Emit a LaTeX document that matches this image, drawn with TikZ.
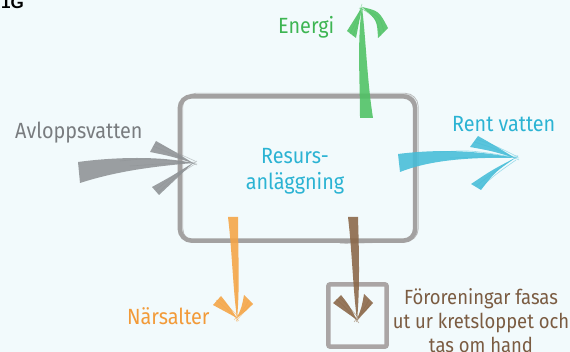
\documentclass[tikz,border=0pt]{standalone}
\usepackage{fontspec}
\setmainfont{Fira Sans}[FakeStretch=0.9]
\newfontfamily\hdfont{Liberation Sans}
\usetikzlibrary{calc}
\definecolor{bg}{HTML}{F2FAFC}
\definecolor{boxgray}{HTML}{A3A1A1}
\definecolor{arrgray}{HTML}{8E9295}
\definecolor{cyanA}{HTML}{45BDD8}
\definecolor{cyanT}{HTML}{2BB3D3}
\definecolor{greenA}{HTML}{4EC263}
\definecolor{greenT}{HTML}{3DB552}
\definecolor{orangeA}{HTML}{F5A444}
\definecolor{orangeT}{HTML}{F29A38}
\definecolor{brownA}{HTML}{8A6646}
\definecolor{brownT}{HTML}{7B5C42}
\definecolor{trapgray}{HTML}{AAA5A5}
\begin{document}
\begin{tikzpicture}[x=1pt,y=-1pt,
  lbl/.style={inner sep=0pt, font=\fontsize{22}{26}\selectfont},
  brush/.style={opacity=.88},
  streak/.style={line width=.6pt, opacity=.5}]
\fill[bg] (0,0) rectangle (570,352);
\useasboundingbox (0,0) rectangle (570,352);

% heading
\node[anchor=base west, inner sep=0pt, font=\hdfont\bfseries\fontsize{17}{17}\selectfont] (hd) at (1,9) {1G};

% main box
\node[minimum width=235pt, minimum height=144pt, inner sep=0pt] (plant) at (297.5,168.5) {};
\draw[boxgray, line width=4.5pt, rounded corners=12pt] (plant.north west) rectangle (plant.south east);
\draw[boxgray, line width=.8pt, opacity=.7, rounded corners=13pt]
  ($(plant.north west)+(3,-3)$) rectangle ($(plant.south east)+(3,1)$);
\draw[boxgray, line width=.6pt, opacity=.6, rounded corners=11pt]
  ($(plant.north west)+(20,-1)$) -- ($(plant.north east)+(1,-2)$) -- ($(plant.south east)+(1,-6)$);
\draw[boxgray, line width=.6pt, opacity=.6]
  ($(plant.south west)+(160,3)$) -- ($(plant.south east)+(-10,1)$);
\node[lbl, text=cyanT, align=center] (plantlbl) at (295,171) {Resurs-\\anläggning};

% small trap box
\node[minimum width=58pt, minimum height=62pt, inner sep=0pt] (trap) at (357.5,315.5) {};
\draw[trapgray, line width=4.5pt, rounded corners=2pt] (trap.north west) rectangle (trap.south east);

% labels
\node[lbl, anchor=base west, text=arrgray!85!black] (inlbl) at (15,139) {Avloppsvatten};
\node[lbl, anchor=base west, text=cyanT] (outlbl) at (452,132) {Rent vatten};
\node[lbl, anchor=base west, text=greenT] (enlbl) at (278,34) {Energi};
\node[lbl, anchor=base west, text=orangeT] (nslbl) at (127,325) {Närsalter};
\node[inner sep=0pt, anchor=north, align=center, text=brownT, font=\fontsize{20.5}{24}\selectfont] (folbl) at (481,288) {Föroreningar fasas\\ut ur kretsloppet och\\tas om hand};

% ---- input arrow (gray)
\coordinate (in-t) at (193,163);
\begin{scope}[brush, fill=arrgray]
\fill (78,162) .. controls (115,157) and (160,156) .. (in-t) .. controls (160,166) and (120,170) .. (80,183) -- cycle;
\fill (150,152) .. controls (170,156) .. (in-t) .. controls (172,150) .. (156,141) -- cycle;
\fill (152,187) .. controls (172,176) .. (in-t) .. controls (176,179) .. (159,195) -- cycle;
\end{scope}
\begin{scope}[streak, draw=arrgray]
\draw (120,161) .. controls (150,158) .. (197,164);
\draw (130,166) .. controls (160,164) .. (196,162);
\draw (153,146) .. controls (172,154) .. (197,165);
\draw (155,143) .. controls (175,152) .. (195,161);
\draw (156,190) .. controls (174,175) .. (197,161);
\draw (158,193) .. controls (176,176) .. (195,164);
\end{scope}

% ---- output arrow (cyan)
\coordinate (out-t) at (515,158);
\begin{scope}[brush, fill=cyanA]
\fill (398,154) .. controls (430,150) and (470,149) .. (out-t) .. controls (470,157) and (430,160) .. (400,172) -- cycle;
\fill (470,147) .. controls (492,151) .. (out-t) .. controls (494,145) .. (478,136) -- cycle;
\fill (471,184) .. controls (492,170) .. (out-t) .. controls (495,172) .. (481,190) -- cycle;
\end{scope}
\begin{scope}[streak, draw=cyanA]
\draw (440,152) .. controls (470,150) .. (519,158);
\draw (450,158) .. controls (480,157) .. (518,156);
\draw (474,142) .. controls (494,148) .. (519,160);
\draw (476,139) .. controls (496,146) .. (516,156);
\draw (476,186) .. controls (494,172) .. (518,156);
\draw (479,189) .. controls (496,174) .. (516,160);
\end{scope}

% ---- energy arrow (green)
\coordinate (en-t) at (362,7);
\begin{scope}[brush, fill=greenA]
\fill (360,118) .. controls (360,80) and (357,40) .. (en-t) .. controls (366,40) and (367,80) .. (373,118) -- cycle;
\fill (347,31) .. controls (354,20) .. (en-t) .. controls (359,22) .. (356,38) -- cycle;
\fill (378,38) .. controls (377,20) .. (en-t) .. controls (379,11) .. (388,28) -- cycle;
\end{scope}
\begin{scope}[streak, draw=greenA]
\draw (350,34) .. controls (356,22) .. (362,4);
\draw (353,36) .. controls (358,22) .. (363,8);
\draw (384,32) .. controls (380,16) .. (359,8);
\draw (381,36) .. controls (376,18) .. (364,10);
\end{scope}

% ---- nutrient arrow (orange)
\coordinate (ns-t) at (237,318);
\begin{scope}[brush, fill=orangeA]
\fill (228,217) .. controls (232,250) and (233,290) .. (ns-t) .. controls (240,290) and (238,250) .. (238,217) -- cycle;
\fill (213,305) .. controls (225,311) .. (ns-t) .. controls (229,306) .. (221,296) -- cycle;
\fill (244,295) .. controls (242,306) .. (ns-t) .. controls (246,311) .. (253,304) -- cycle;
\end{scope}
\begin{scope}[streak, draw=orangeA]
\draw (216,300) .. controls (226,308) .. (239,321);
\draw (219,298) .. controls (228,306) .. (238,316);
\draw (249,300) .. controls (244,309) .. (234,320);
\draw (251,303) .. controls (245,311) .. (236,321);
\draw (236,270) .. controls (237,300) .. (237,322);
\end{scope}

% ---- pollutant arrow (brown)
\coordinate (fo-t) at (357,320);
\begin{scope}[brush, fill=brownA]
\fill (348,217) .. controls (352,250) and (353,290) .. (fo-t) .. controls (360,290) and (359,250) .. (358,217) -- cycle;
\fill (333,303) .. controls (345,311) .. (fo-t) .. controls (349,305) .. (341,295) -- cycle;
\fill (364,294) .. controls (362,306) .. (fo-t) .. controls (366,311) .. (373,303) -- cycle;
\end{scope}
\begin{scope}[streak, draw=brownA]
\draw (336,299) .. controls (346,308) .. (359,323);
\draw (339,297) .. controls (348,306) .. (358,317);
\draw (369,300) .. controls (364,309) .. (354,322);
\draw (371,303) .. controls (365,311) .. (356,322);
\end{scope}
\end{tikzpicture}
\end{document}
